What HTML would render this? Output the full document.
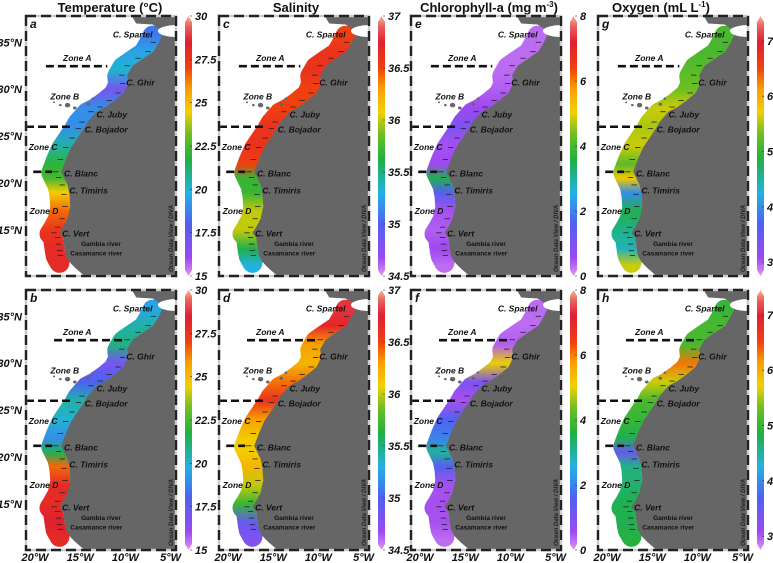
<!DOCTYPE html>
<html><head><meta charset="utf-8"><style>
html,body{margin:0;padding:0;background:#fff;}
svg{display:block;font-family:"Liberation Sans",Arial,sans-serif;}
</style></head><body>
<svg id="fig" width="773" height="563" viewBox="0 0 773 563"></svg>
<script>
// ---- data ----
const latNodes = [35.8, 34, 32, 30, 28, 26, 24, 22, 20.5, 19, 17, 15, 13, 11.2];
const tempDry = [18.5, 19.5, 20, 17, 19, 19, 20.5, 22, 22.5, 24.5, 26.5, 27.5, 28, 28];
const tempWet = [19.5, 20.5, 21, 17, 18, 20.5, 20, 19, 21.5, 26.5, 28, 28, 28.5, 28];
const salDry = [36.5, 36.6, 36.6, 36.5, 36.5, 36.6, 36.6, 36.5, 35.7, 35.7, 36, 36, 35.6, 35.3];
const salWet = [36.8, 36.7, 36.3, 36.2, 36.4, 36.6, 36.3, 36.1, 36.1, 36.2, 36, 35.7, 34.9, 34.8];
const chlDry = [0.3, 0.3, 0.3, 0.4, 0.6, 1.0, 0.5, 0.6, 3.5, 1.5, 0.5, 0.4, 0.6, 0.3];
const chlWet = [0.3, 0.3, 0.4, 5.0, 1.0, 0.5, 1.5, 2.0, 3.0, 1.5, 0.5, 0.5, 0.5, 0.3];
const oxyDry = [5.1, 5.1, 5.2, 5.3, 5.6, 5.5, 5.6, 5.2, 5.8, 4.0, 4.8, 4.6, 4.4, 5.6];
const oxyWet = [5.0, 5.1, 5.1, 6.3, 5.6, 5.1, 5.0, 4.8, 3.5, 4.6, 4.7, 4.8, 4.8, 4.9];
const cbTempTicks = [15, 17.5, 20, 22.5, 25, 27.5, 30];
const cbSalTicks = [34.5, 35, 35.5, 36, 36.5, 37];
const cbChlTicks = [0, 2, 4, 6, 8];
const cbOxyTicks = [3, 4, 5, 6, 7];
const latTicks = [35, 30, 25, 20, 15];
const lonTicks = [-20, -15, -10, -5];
// ---- layout ----
const NS = 'http://www.w3.org/2000/svg';
const svg = document.getElementById('fig');
function mk(tag, attrs, parent){const e=document.createElementNS(NS,tag);for(const k in attrs)e.setAttribute(k,attrs[k]);(parent||svg).appendChild(e);return e;}
const colX = [26, 219, 411, 598];
const rowY = [16, 290];
const PW = 150, PH = 260;
const LON0 = -21, LON1 = -4.4, LAT1 = 37.8, LAT0 = 10.1;
const cmapStops = [[0,'#dc95f2'],[0.07,'#a048f0'],[0.2,'#4c62f0'],[0.32,'#22b2e2'],[0.45,'#20b040'],[0.55,'#72c020'],[0.63,'#f2d000'],[0.72,'#f8a000'],[0.8,'#f04010'],[0.9,'#e02030'],[0.96,'#e86060'],[1,'#f4b890']];
function hex(c){return [parseInt(c.substr(1,2),16),parseInt(c.substr(3,2),16),parseInt(c.substr(5,2),16)];}
function cmap(t){t=Math.max(0,Math.min(1,t));for(let i=1;i<cmapStops.length;i++){if(t<=cmapStops[i][0]){const a=cmapStops[i-1],b=cmapStops[i];const f=(t-a[0])/(b[0]-a[0]);const A=hex(a[1]),B=hex(b[1]);return 'rgb('+A.map((v,j)=>Math.round(v+(B[j]-v)*f)).join(',')+')';}}return cmapStops[cmapStops.length-1][1];}
const coast = [[-5.9,35.8],[-6.3,35],[-6.9,34],[-8,33.3],[-9.2,32.5],[-9.8,31.5],[-9.7,30.6],[-10.2,29.6],[-11.2,28.8],[-12.2,28.1],[-13.2,27.6],[-14.2,26.5],[-14.6,25.8],[-15.3,24.8],[-16,23.8],[-16.6,22.5],[-17.1,21.2],[-16.8,20.6],[-16.4,19.8],[-16.2,18.8],[-16.1,17.5],[-16.4,16.2],[-16.9,15.3],[-17.3,14.7],[-16.9,14.2],[-16.8,13.5],[-16.7,12.8],[-16.6,12.3],[-16.2,11.6],[-15.6,11.0],[-15,10.5],[-14.5,10.1]];
const panels = [
 {l:'a',c:0,r:0,v:tempDry,min:15,max:30,ticks:cbTempTicks},
 {l:'b',c:0,r:1,v:tempWet,min:15,max:30,ticks:cbTempTicks},
 {l:'c',c:1,r:0,v:salDry,min:34.5,max:37,ticks:cbSalTicks},
 {l:'d',c:1,r:1,v:salWet,min:34.5,max:37,ticks:cbSalTicks},
 {l:'e',c:2,r:0,v:chlDry,min:0,max:8,ticks:cbChlTicks},
 {l:'f',c:2,r:1,v:chlWet,min:0,max:8,ticks:cbChlTicks},
 {l:'g',c:3,r:0,v:oxyDry,min:2.75,max:7.45,ticks:cbOxyTicks},
 {l:'h',c:3,r:1,v:oxyWet,min:2.75,max:7.45,ticks:cbOxyTicks}
];
const titleText = ['Temperature (°C)','Salinity','Chlorophyll-a (mg m','Oxygen (mL L'];
const titleSup = ['','','-3','-1'];
const titleTail = ['','',')',')'];
const titleCx = [110, 296, 489, 661];
for(let c=0;c<4;c++){
  const t = mk('text',{x:titleCx[c],y:12,'text-anchor':'middle','font-size':13,'font-weight':'bold',fill:'#111'});
  
  
  t.appendChild(document.createTextNode(titleText[c]));
  if(titleSup[c]){const s=mk('tspan',{'font-size':8,dy:-5},t);s.textContent=titleSup[c];const s2=mk('tspan',{dy:5},t);s2.textContent=titleTail[c];}
}
const labels = [
 ['C. Spartel',-7,35.5,'end',8.5,true],['Zone A',-16.9,33.0,'start',8.5,true],['C. Ghir',-9.9,30.4,'start',8.5,true],
 ['Zone B',-18.3,28.9,'start',8.5,true],['C. Juby',-13.2,27.0,'start',8.5,true],['C. Bojador',-14.5,25.4,'start',8.5,true],
 ['Zone C',-20.7,23.5,'start',8.5,true],['C. Blanc',-16.8,20.7,'start',8.5,true],['C. Timiris',-16.2,18.9,'start',8.5,true],
 ['Zone D',-20.6,16.7,'start',8.5,true],['C. Vert',-17,14.3,'start',8.5,true],['Gambia river',-14.9,13.3,'start',6.5,false],
 ['Casamance river',-16.1,12.3,'start',6.5,false]
];
panels.forEach(p=>{
  const x0=colX[p.c], y0=rowY[p.r];
  const X=lon=>x0+(lon-LON0)/(LON1-LON0)*PW;
  const Y=lat=>y0+(LAT1-lat)/(LAT1-LAT0)*PH;
  const g=mk('g',{});
  
  
  const clipId='clip'+p.l;
  const cp=mk('clipPath',{id:clipId},g);mk('rect',{x:x0,y:y0,width:PW,height:PH},cp);
  const inner=mk('g',{'clip-path':'url(#'+clipId+')'},g);
  mk('rect',{x:x0,y:y0,width:PW,height:PH,fill:'#fff'},inner);
  const gid='grad'+p.l;
  const y1=Y(latNodes[0]), y2=Y(latNodes[latNodes.length-1]);
  const lg=mk('linearGradient',{id:gid,gradientUnits:'userSpaceOnUse',x1:0,x2:0,y1:y1,y2:y2},inner);
  latNodes.forEach((lat,i)=>{mk('stop',{offset:((Y(lat)-y1)/(y2-y1)).toFixed(4),'stop-color':cmap((p.v[i]-p.min)/(p.max-p.min))},lg);});
  const bandPts=coast.filter(q=>q[1]>=11.2).map(q=>X(q[0]-1.1)+','+Y(q[1]-0.1)).join(' ');
  const band=mk('polyline',{points:bandPts,fill:'none',stroke:'url(#'+gid+')','stroke-width':20,'stroke-linecap':'round','stroke-linejoin':'round'},inner);
  
  
  let landPts=[[LON1,LAT1+1],[-9.3,LAT1+1],[-9.3,37.8],[-8.8,37.0],[-7,36.9],[-6.2,36.4],[-5.9,36.0]].concat(coast).concat([[LON1,LAT0-1]]);
  const land=mk('polygon',{points:landPts.map(q=>X(q[0])+','+Y(q[1])).join(' '),fill:'#666'},inner);
  
  
  mk('ellipse',{cx:X(-4.2),cy:Y(36.2),rx:PW*2.2/(LON1-LON0),ry:PH*0.65/(LAT1-LAT0),fill:'#fff'},inner);
  [[-17.9,28.6,0.12],[-17.2,28.3,0.15],[-16.4,28.3,0.3],[-15.6,28.0,0.2],[-14.1,28.4,0.2],[-13.6,29.0,0.15]].forEach(q=>{
    mk('ellipse',{cx:X(q[0]),cy:Y(q[1]),rx:q[2]*PW/(LON1-LON0),ry:q[2]*0.8*PH/(LAT1-LAT0),fill:'#666'},inner);
  });
  coast.filter(q=>q[1]>12&&q[1]<35.5).forEach(q=>{mk('line',{x1:X(q[0]-0.9),y1:Y(q[1]),x2:X(q[0]-0.3),y2:Y(q[1]),stroke:'#222','stroke-width':0.8},inner);});
  const zA = p.r===0?[-18.8,-12]:[-17.9,-10.1];
  [[zA[0],zA[1],32.45],[LON0,-15.9,26.0],[-20.2,-18.1,21.2]].forEach(z=>{
    const zl=mk('line',{x1:X(z[0]),y1:Y(z[2]),x2:X(z[1]),y2:Y(z[2]),stroke:'#111','stroke-width':2.6,'stroke-dasharray':'8,4'},inner);
    
    
  });
  labels.forEach(L=>{
    const t=mk('text',{x:X(L[1]),y:Y(L[2]),'text-anchor':L[3],'font-size':L[4],'font-weight':'bold','font-style':L[5]?'italic':'normal',fill:'#111'},inner);
    t.textContent=L[0];
    
    
  });
  const odv=mk('text',{x:0,y:0,'font-size':6,'font-style':'italic','font-weight':'bold',fill:'#222',transform:'translate('+(x0+PW-3)+','+(y0+PH-4)+') rotate(-90)'},inner);
  odv.textContent='Ocean Data View / DIVA';
  
  
  mk('rect',{x:x0,y:y0,width:PW,height:PH,fill:'none',stroke:'#ccc','stroke-width':2.4},g);
  mk('rect',{x:x0,y:y0,width:PW,height:PH,fill:'none',stroke:'#222','stroke-width':2.4,'stroke-dasharray':'10,5'},g);
  const pl=mk('text',{x:x0+4,y:y0+12,'font-size':12,'font-weight':'bold','font-style':'italic',fill:'#111'},g);
  pl.textContent=p.l;
  
  
  const cb=mk('g',{});
  
  
  const cx=x0+159, cw=7, ct=y0, cbt=y0+PH;
  const cg='cbg'+p.l;
  const lg2=mk('linearGradient',{id:cg,x1:0,x2:0,y1:1,y2:0},cb);
  cmapStops.forEach(s=>mk('stop',{offset:s[0],'stop-color':s[1]},lg2));
  mk('polygon',{points:[cx+cw/2,ct,cx+cw,ct+6,cx+cw,cbt-6,cx+cw/2,cbt,cx,cbt-6,cx,ct+6].join(' '),fill:'url(#'+cg+')'},cb);
  p.ticks.forEach(v=>{
    const ty=cbt-(v-p.min)/(p.max-p.min)*PH;
    mk('line',{x1:cx+cw-2,y1:ty,x2:cx+cw,y2:ty,stroke:'#333','stroke-width':0.6},cb);
    const tt=mk('text',{x:cx+cw+3,y:ty+4,'font-size':11,'font-weight':'bold','font-style':'italic',fill:'#111'},cb);
    tt.textContent=String(v);
  });
  if(p.c===0){latTicks.forEach(lat=>{const t=mk('text',{x:22,y:Y(lat)+4,'text-anchor':'end','font-size':11,'font-weight':'bold','font-style':'italic',fill:'#111'});t.textContent=lat+'°N';});}
  if(p.r===1){lonTicks.forEach(lon=>{const t=mk('text',{x:X(lon),y:561,'text-anchor':'middle','font-size':11,'font-weight':'bold','font-style':'italic',fill:'#111'});t.textContent=(-lon)+'°W';});}
});
</script>
</body></html>
